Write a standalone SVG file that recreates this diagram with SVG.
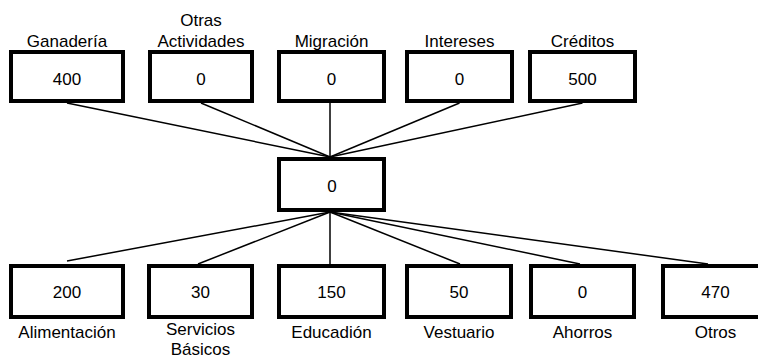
<svg xmlns="http://www.w3.org/2000/svg" width="758" height="358" viewBox="0 0 758 358">
<style>
.box{fill:#fff;stroke:#000;stroke-width:4}
.t{font-family:"Liberation Sans",Arial,sans-serif;font-size:17px;fill:#000;text-anchor:middle}
.c line{stroke:#000;stroke-width:1.5}
</style>
<rect width="758" height="358" fill="#fff"/>
<g class="c" id="connectors">
<line x1="67" y1="103" x2="330" y2="157"/>
<line x1="201" y1="103" x2="330" y2="157"/>
<line x1="330" y1="103" x2="330" y2="157"/>
<line x1="459.5" y1="103" x2="330" y2="157"/>
<line x1="582.5" y1="103" x2="330" y2="157"/>
<line x1="330" y1="212" x2="67" y2="261"/>
<line x1="330" y1="212" x2="198" y2="264"/>
<line x1="330" y1="212" x2="330" y2="264"/>
<line x1="330" y1="212" x2="460" y2="264"/>
<line x1="330" y1="212" x2="580" y2="264"/>
<line x1="330" y1="212" x2="708" y2="264"/>
</g>
<g id="ganaderia"><rect class="box" x="11" y="52" width="112" height="49"/><text class="t" x="67" y="46.5">Ganadería</text><text class="t" x="67" y="85">400</text></g>
<g id="otras"><rect class="box" x="150" y="52" width="102" height="49"/><text class="t" x="201" y="25.5">Otras</text><text class="t" x="201" y="46.5">Actividades</text><text class="t" x="201" y="85">0</text></g>
<g id="migracion"><rect class="box" x="279" y="52" width="105" height="49"/><text class="t" x="331.5" y="46.5">Migración</text><text class="t" x="331.5" y="85">0</text></g>
<g id="intereses"><rect class="box" x="407" y="52" width="105" height="49"/><text class="t" x="459.5" y="46.5">Intereses</text><text class="t" x="459.5" y="85">0</text></g>
<g id="creditos"><rect class="box" x="530" y="52" width="105" height="49"/><text class="t" x="582.5" y="46.5">Créditos</text><text class="t" x="582.5" y="85">500</text></g>
<g id="centro"><rect class="box" x="279" y="159" width="105" height="51"/><text class="t" x="332" y="192">0</text></g>
<g id="alimentacion"><rect class="box" x="11" y="266" width="112" height="51"/><text class="t" x="67" y="298">200</text><text class="t" x="67" y="338">Alimentación</text></g>
<g id="servicios"><rect class="box" x="149" y="266" width="103" height="51"/><text class="t" x="200.5" y="298">30</text><text class="t" x="200.5" y="334.5">Servicios</text><text class="t" x="200.5" y="354.5">Básicos</text></g>
<g id="educacion"><rect class="box" x="279" y="266" width="105" height="51"/><text class="t" x="331.5" y="298">150</text><text class="t" x="331.5" y="338">Educadión</text></g>
<g id="vestuario"><rect class="box" x="407" y="266" width="104" height="51"/><text class="t" x="459" y="298">50</text><text class="t" x="459" y="338">Vestuario</text></g>
<g id="ahorros"><rect class="box" x="531" y="266" width="103" height="51"/><text class="t" x="582.5" y="298">0</text><text class="t" x="582.5" y="338">Ahorros</text></g>
<g id="otros"><rect class="box" x="663" y="266" width="105" height="51"/><text class="t" x="715.5" y="298">470</text><text class="t" x="715.5" y="338">Otros</text></g>
</svg>
